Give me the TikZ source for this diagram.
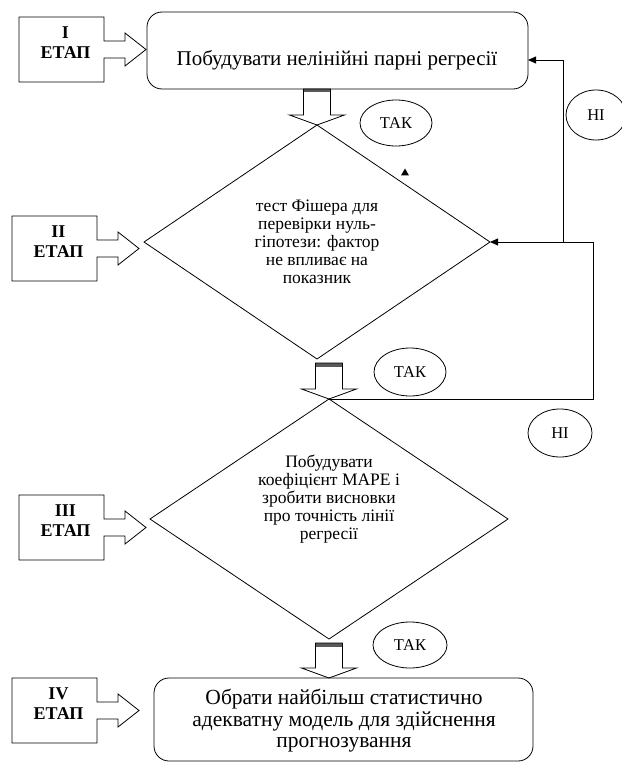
\documentclass[tikz,border=0pt]{standalone}
\usepackage{fontspec}
\setmainfont{Liberation Serif}[Ligatures=TeX]
\newfontfamily\tnr{Liberation Serif}
\usetikzlibrary{shapes.geometric,arrows.meta,calc}
\newcommand\stageoutline[1]{%
  \draw (#1.north west) -- (#1.north east) -- ++(0,24) -- ++(21,0) -- ++(0,-8)
    -- ++(21,16.5) -- ++(-21,16.5) -- ++(0,-8) -- ++(-21,0)
    -- (#1.south east) -- (#1.south west) -- cycle;}
\newcommand\blockdown[2]{% #1 top coordinate, #2 tip coordinate
  \coordinate (bdtop) at (#2 |- #1);
  \fill[black!65] ($(bdtop)+(-13.5,0)$) rectangle ($(bdtop)+(13.5,3.5)$);
  \draw ($(bdtop)+(-13.5,0)$) -- ($(#2)+(-13.5,-10)$) -- ($(#2)+(-27.5,-10)$) -- (#2)
    -- ($(#2)+(27.5,-10)$) -- ($(#2)+(13.5,-10)$) -- ($(bdtop)+(13.5,0)$) -- cycle;}
\begin{document}
\begin{tikzpicture}[x=1pt,y=-1pt, line width=0.8pt,
  stagelbl/.style={font=\tnr\fontsize{18}{20.5}\selectfont\bfseries, align=center, inner sep=0pt},
  stagebox/.style={minimum width=85pt, minimum height=65pt, inner sep=0pt, outer sep=0pt},
  mainbox/.style={draw, rounded corners=15pt, inner sep=0pt, outer sep=0pt},
  maintext/.style={font=\tnr\fontsize{21}{21.5}\selectfont, align=center, inner sep=0pt},
  dia/.style={diamond, draw, inner sep=0pt, outer sep=0pt},
  diatext/.style={font=\tnr\fontsize{17.5}{17.9}\selectfont, align=center, inner sep=0pt},
  answer/.style={ellipse, draw, inner sep=0pt, outer sep=0pt, font=\tnr\fontsize{16.5}{18}\selectfont},
  arr/.style={-{Triangle[length=8pt,width=7pt]}}
]
\useasboundingbox (0,0) rectangle (621,762);
\fill[white] (0,0) rectangle (621,762);

% stage boxes
\node[stagebox] (s1) at (61.5,49.5) {};
\node[stagebox] (s2) at (54.5,248.5) {};
\node[stagebox] (s3) at (61.5,527.5) {};
\node[stagebox] (s4) at (54.5,710.5) {};
\stageoutline{s1}
\stageoutline{s2}
\stageoutline{s3}
\stageoutline{s4}
\node[stagelbl] (l1) at ([xshift=4pt,yshift=7pt]s1.center) {I\\ЕТАП};
\node[stagelbl] (l2) at ([xshift=4pt,yshift=7pt]s2.center) {II\\ЕТАП};
\node[stagelbl] (l3) at ([xshift=4pt,yshift=7pt]s3.center) {III\\ЕТАП};
\node[stagelbl] (l4) at ([xshift=4pt,yshift=7pt]s4.center) {IV\\ЕТАП};

% main boxes
\node[mainbox, minimum width=381pt, minimum height=77pt] (b1) at (337.5,50.5) {};
\node[maintext] (t1) at (337,60) {Побудувати нелінійні парні регресії};
\node[mainbox, minimum width=379pt, minimum height=83pt] (b2) at (343.5,719.5) {};
\node[maintext, font=\tnr\fontsize{21.5}{21.5}\selectfont] (t4) at (344,721) {Обрати найбільш статистично\\адекватну модель для здійснення\\прогнозування};

% diamonds
\node[dia, minimum width=346pt, minimum height=234pt] (d1) at (317,242) {};
\node[diatext] (td1) at (317,242) {тест Фішера для\\перевірки нуль-\\гіпотези: фактор\\не впливає на\\показник};
\node[dia, minimum width=358pt, minimum height=240pt] (d2) at (329,519) {};
\node[diatext] (td2) at (329,499) {Побудувати\\коефіцієнт MAPE і\\зробити висновки\\про точність лінії\\регресії};

% block arrows
\blockdown{b1.south}{d1.north}
\coordinate (g2) at ([yshift=-4pt]d1.south);
\blockdown{g2}{d2.north}
\coordinate (g3) at ([yshift=-4pt]d2.south);
\coordinate (tip3) at (d2.south |- b2.north);
\blockdown{g3}{tip3}

% feedback connectors
\coordinate (fr) at ($(d1.east)+(103,0)$);
\coordinate (fu) at ($(d1.east)+(73,0)$);
\draw[arr] (d2.north) -| (fr) -- (d1.east);
\draw[arr] (fu) |- ([yshift=-9.5pt]b1.east);

% answers
\node[answer, minimum width=72pt, minimum height=46pt] (a1) at (396,123) {ТАК};
\node[answer, minimum width=60pt, minimum height=50pt] (n1) at (596,115) {НІ};
\node[answer, minimum width=72pt, minimum height=48pt] (a2) at (410,372) {ТАК};
\node[answer, minimum width=64pt, minimum height=48pt] (n2) at (560,433) {НІ};
\node[answer, minimum width=74pt, minimum height=46pt] (a3) at (410,645) {ТАК};

% small stray marker
\fill (401,175.5) -- (409,175.5) -- (405,168.5) -- cycle;
\end{tikzpicture}
\end{document}
